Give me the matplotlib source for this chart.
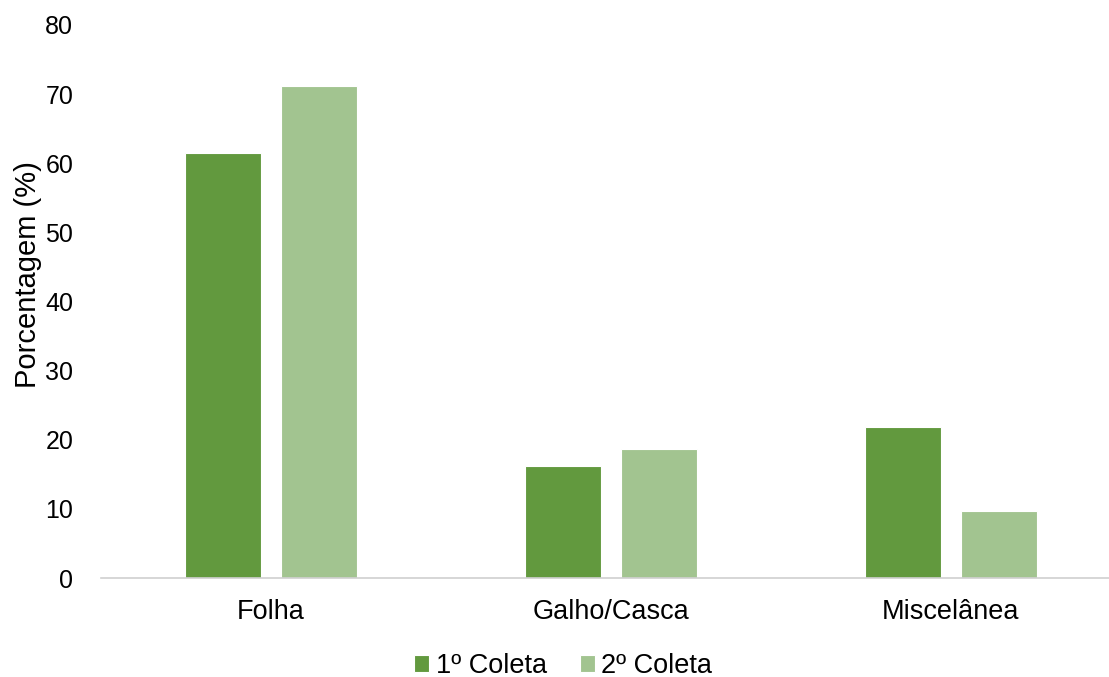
import numpy as np
import matplotlib.pyplot as plt

plt.rcParams['font.family'] = ['Liberation Sans', 'DejaVu Sans']

categorias = ['Folha', 'Galho/Casca', 'Miscelânea']
coleta1 = [61.5, 16.2, 21.9]
coleta2 = [71.2, 18.6, 9.7]
series = ['1º Coleta', '2º Coleta']
cores = ['#62993E', '#A2C490']

fig = plt.figure(figsize=(11.09, 6.77), dpi=100)
ax = fig.add_axes([101 / 1109, 1 - 578 / 677, 1 - 101 / 1109, (578 - 25) / 677])

x = np.arange(len(categorias))
w = 0.222
ax.bar(x - 0.141, coleta1, w, color=cores[0], label=series[0], edgecolor='white', linewidth=0.8)
ax.bar(x + 0.141, coleta2, w, color=cores[1], label=series[1], edgecolor='white', linewidth=0.8)

ax.set_xlim(-0.5, 2.465)
ax.set_ylim(0, 80)
ax.set_yticks(range(0, 81, 10))
ax.set_xticks(x)
ax.set_xticklabels(categorias)
ax.tick_params(length=0, colors='black')
ax.tick_params(axis='x', pad=15, labelsize=19.5)
ax.tick_params(axis='y', pad=20, labelsize=18)
for s in ['top', 'right', 'left']:
    ax.spines[s].set_visible(False)
ax.spines['bottom'].set_color('#D0D0D0')
ax.spines['bottom'].set_linewidth(1.2)
ax.set_ylabel('Porcentagem (%)', fontsize=21)
ax.yaxis.set_label_coords(-0.059, 0.548)

fig.legend(loc='center', bbox_to_anchor=(0.508, 1 - 666 / 677), ncol=2, frameon=False,
           fontsize=19.5, handlelength=0.55, handleheight=0.55, handletextpad=0.25, columnspacing=1.2)

fig.savefig('out.png', dpi=100)
